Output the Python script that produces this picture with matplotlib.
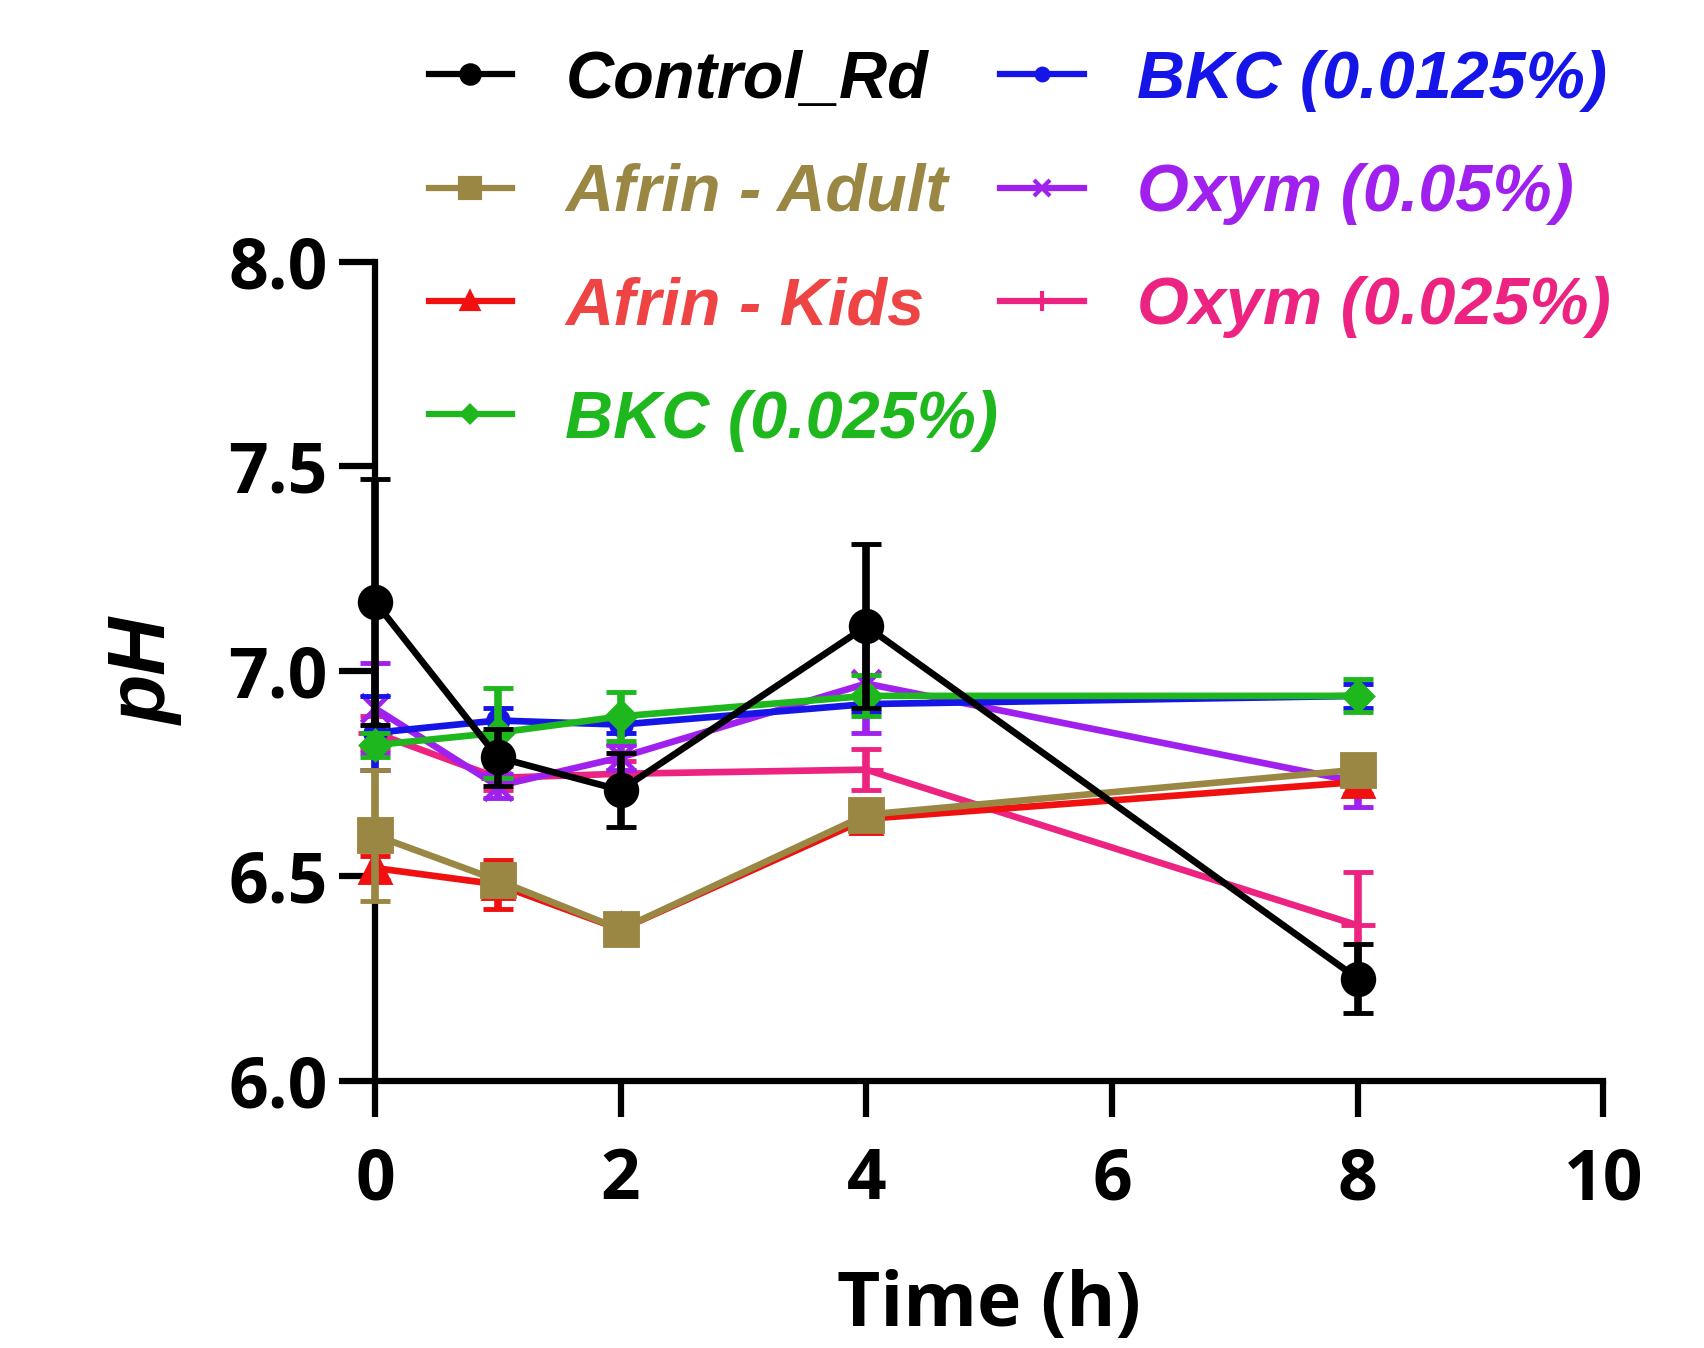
import matplotlib
matplotlib.use('Agg')
import matplotlib.pyplot as plt
from matplotlib.lines import Line2D

# time points (h)
time_h = [0, 1, 2, 4, 8]

labels = ['Control_Rd', 'Afrin - Adult', 'Afrin - Kids', 'BKC (0.025%)',
          'BKC (0.0125%)', 'Oxym (0.05%)', 'Oxym (0.025%)']

control_rd = [7.17, 6.79, 6.71, 7.11, 6.25]
control_rd_sem = [0.30, 0.07, 0.09, 0.20, 0.085]
afrin_adult = [6.60, 6.49, 6.37, 6.65, 6.76]
afrin_adult_sem = [0.16, 0.03, 0.02, 0.03, 0.03]
afrin_kids = [6.52, 6.48, 6.37, 6.64, 6.73]
afrin_kids_sem = [0.03, 0.06, 0.02, 0.03, 0.03]
bkc_025 = [6.82, 6.85, 6.89, 6.94, 6.94]
bkc_025_sem = [0.03, 0.11, 0.06, 0.05, 0.04]
bkc_0125 = [6.85, 6.88, 6.87, 6.92, 6.94]
bkc_0125_sem = [0.09, 0.03, 0.02, 0.02, 0.03]
oxym_05 = [6.91, 6.72, 6.79, 6.97, 6.73]
oxym_05_sem = [0.11, 0.03, 0.03, 0.12, 0.06]
oxym_025 = [6.85, 6.74, 6.75, 6.76, 6.38]
oxym_025_sem = [0.04, 0.03, 0.03, 0.05, 0.13]

means = [control_rd, afrin_adult, afrin_kids, bkc_025, bkc_0125, oxym_05, oxym_025]
sems = [control_rd_sem, afrin_adult_sem, afrin_kids_sem, bkc_025_sem,
        bkc_0125_sem, oxym_05_sem, oxym_025_sem]
colors = ['#000000', '#9A8744', '#F01010', '#1EB81E', '#1515E8', '#A020EE', '#EC2380']
text_colors = ['#000000', '#9A8744', '#EE4444', '#1EB81E', '#1515E8', '#A020EE', '#EC2380']
markers = ['o', 's', '^', 'D', 'o', 'x', '+']
msizes = [22, 23, 20, 14, 14, 20, 24]

fig = plt.figure(figsize=(17.04, 13.48), dpi=100)
ax = fig.add_axes([0.220, 0.198, 0.721, 0.608])

# draw order: back to front
draw_order = [6, 5, 4, 2, 1, 3, 0]
for z, i in enumerate(draw_order):
    ax.errorbar(time_h, means[i], yerr=sems[i], color=colors[i],
                marker=markers[i], markersize=msizes[i], markeredgewidth=3.5,
                linewidth=4.8, elinewidth=5.5, capsize=11, capthick=6,
                clip_on=False, zorder=3 + z)

ax.set_xlim(0, 10)
ax.set_ylim(6.0, 8.0)
ax.set_xticks([0, 2, 4, 6, 8, 10])
ax.set_yticks([6.0, 6.5, 7.0, 7.5, 8.0])
ax.set_yticklabels(['6.0', '6.5', '7.0', '7.5', '8.0'])

for s in ['top', 'right']:
    ax.spines[s].set_visible(False)
for s in ['left', 'bottom']:
    ax.spines[s].set_linewidth(4.5)
ax.tick_params(axis='both', width=4.5, length=26)
ax.tick_params(axis='x', pad=21)
ax.tick_params(axis='y', pad=8)
for lbl in ax.get_xticklabels() + ax.get_yticklabels():
    lbl.set_fontfamily('Open Sans')
    lbl.set_fontweight('bold')
    lbl.set_fontsize(50)

ax.set_xlabel('Time (h)', fontfamily='Open Sans', fontweight='bold', fontsize=54, labelpad=38)
ax.set_ylabel('pH', fontfamily='Liberation Sans', fontweight='bold', fontstyle='italic',
              fontsize=58, labelpad=32)

# legend shows line + marker only
handles = [Line2D([], [], color=colors[i], marker=markers[i], markersize=msizes[i] * 0.6,
                  markeredgewidth=3, linewidth=4.5) for i in range(len(labels))]
leg = fig.legend(handles, labels, ncol=2, loc='upper left',
                 bbox_to_anchor=(0.232, 0.988), frameon=False,
                 prop={'family': 'Liberation Sans', 'weight': 'bold', 'style': 'italic', 'size': 48},
                 handlelength=1.25, handletextpad=0.8, columnspacing=0.03, labelspacing=0.77,
                 borderpad=0)
for txt, c in zip(leg.get_texts(), text_colors):
    txt.set_color(c)

fig.savefig('out.png', dpi=100)
